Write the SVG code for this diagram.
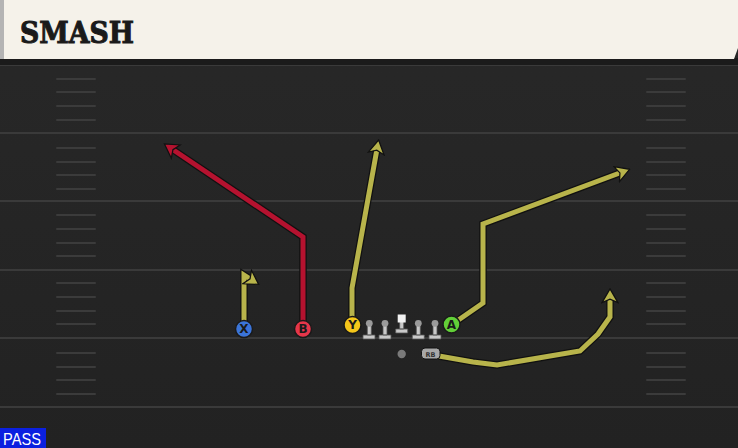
<svg xmlns="http://www.w3.org/2000/svg" width="738" height="448" viewBox="0 0 738 448">
<style>
.yard{stroke:#3a3a3a;stroke-width:2}
.hash{stroke:#3b3b3b;stroke-width:2;stroke-linecap:round}
.route{fill:none;stroke-width:5;stroke-linejoin:miter;stroke-linecap:butt}
.outline{fill:none;stroke:#111;stroke-width:7.5;stroke-linejoin:miter}
.yel{stroke:#b8b44b}
.red{stroke:#b5122f}
.lbl{font-family:"DejaVu Sans","Liberation Sans",sans-serif;font-weight:bold;font-size:12px;text-anchor:middle;fill:#1a1a1a}
.lineman{fill:#c9c9c9;stroke:#555;stroke-width:0.8}
</style>
<defs>
<marker id="ay" viewBox="0 0 14 16" refX="5" refY="8" markerWidth="16" markerHeight="18.3" orient="auto" markerUnits="userSpaceOnUse">
<path d="M1,1 L13,8 L1,15 L4,8 Z" fill="#b8b44b" stroke="#111" stroke-width="1.1" stroke-linejoin="miter"/>
</marker>
<marker id="ar" viewBox="0 0 14 16" refX="5" refY="8" markerWidth="16" markerHeight="18.3" orient="auto" markerUnits="userSpaceOnUse">
<path d="M1,1 L13,8 L1,15 L4,8 Z" fill="#b5122f" stroke="#111" stroke-width="1.1" stroke-linejoin="miter"/>
</marker>
<linearGradient id="fieldg" x1="0" y1="0" x2="0" y2="1">
<stop offset="0" stop-color="#282828"/>
<stop offset="1" stop-color="#222222"/>
</linearGradient>
</defs>
<rect x="0" y="0" width="738" height="448" fill="url(#fieldg)"/>
<g id="field">
<line class="yard" x1="0" y1="65" x2="738" y2="65"/>
<line class="yard" x1="0" y1="133" x2="738" y2="133"/>
<line class="yard" x1="0" y1="201" x2="738" y2="201"/>
<line class="yard" x1="0" y1="270" x2="738" y2="270"/>
<line class="yard" x1="0" y1="338" x2="738" y2="338"/>
<line class="yard" x1="0" y1="407" x2="738" y2="407"/>
<g id="hashes-left">
<line class="hash" x1="57" y1="79" x2="95" y2="79"/>
<line class="hash" x1="57" y1="92" x2="95" y2="92"/>
<line class="hash" x1="57" y1="106" x2="95" y2="106"/>
<line class="hash" x1="57" y1="120" x2="95" y2="120"/>
<line class="hash" x1="57" y1="148" x2="95" y2="148"/>
<line class="hash" x1="57" y1="162" x2="95" y2="162"/>
<line class="hash" x1="57" y1="175" x2="95" y2="175"/>
<line class="hash" x1="57" y1="189" x2="95" y2="189"/>
<line class="hash" x1="57" y1="215" x2="95" y2="215"/>
<line class="hash" x1="57" y1="229" x2="95" y2="229"/>
<line class="hash" x1="57" y1="243" x2="95" y2="243"/>
<line class="hash" x1="57" y1="256" x2="95" y2="256"/>
<line class="hash" x1="57" y1="283" x2="95" y2="283"/>
<line class="hash" x1="57" y1="297" x2="95" y2="297"/>
<line class="hash" x1="57" y1="311" x2="95" y2="311"/>
<line class="hash" x1="57" y1="324" x2="95" y2="324"/>
<line class="hash" x1="57" y1="353" x2="95" y2="353"/>
<line class="hash" x1="57" y1="367" x2="95" y2="367"/>
<line class="hash" x1="57" y1="380" x2="95" y2="380"/>
<line class="hash" x1="57" y1="394" x2="95" y2="394"/>
</g>
<g id="hashes-right">
<line class="hash" x1="647" y1="79" x2="685" y2="79"/>
<line class="hash" x1="647" y1="92" x2="685" y2="92"/>
<line class="hash" x1="647" y1="106" x2="685" y2="106"/>
<line class="hash" x1="647" y1="120" x2="685" y2="120"/>
<line class="hash" x1="647" y1="148" x2="685" y2="148"/>
<line class="hash" x1="647" y1="162" x2="685" y2="162"/>
<line class="hash" x1="647" y1="175" x2="685" y2="175"/>
<line class="hash" x1="647" y1="189" x2="685" y2="189"/>
<line class="hash" x1="647" y1="215" x2="685" y2="215"/>
<line class="hash" x1="647" y1="229" x2="685" y2="229"/>
<line class="hash" x1="647" y1="243" x2="685" y2="243"/>
<line class="hash" x1="647" y1="256" x2="685" y2="256"/>
<line class="hash" x1="647" y1="283" x2="685" y2="283"/>
<line class="hash" x1="647" y1="297" x2="685" y2="297"/>
<line class="hash" x1="647" y1="311" x2="685" y2="311"/>
<line class="hash" x1="647" y1="324" x2="685" y2="324"/>
<line class="hash" x1="647" y1="353" x2="685" y2="353"/>
<line class="hash" x1="647" y1="367" x2="685" y2="367"/>
<line class="hash" x1="647" y1="380" x2="685" y2="380"/>
<line class="hash" x1="647" y1="394" x2="685" y2="394"/>
</g>
</g>
<g id="header">
<rect x="0" y="58" width="738" height="7" fill="#1b1b1b"/>
<path d="M0,0 H738 V48 L734,59 H0 Z" fill="#f5f2ea"/>
<rect x="0" y="0" width="4" height="59" fill="#b4b4b4"/>
<text x="20" y="42.5" font-family="'DejaVu Serif','Liberation Serif',serif" font-weight="bold" font-size="29" textLength="114" lengthAdjust="spacingAndGlyphs" fill="#1a1a1a" stroke="#1a1a1a" stroke-width="1">SMASH</text>
</g>
<g id="connectors">
<path class="outline" d="M244,321 V275 L251,279.5"/>
<path class="route yel" d="M244,321 V275 L251,279.5" marker-end="url(#ay)"/>
<path class="outline" d="M303,321 V237 L172,149"/>
<path class="route red" d="M303,321 V237 L172,149" marker-end="url(#ar)"/>
<path class="outline" d="M352,317 V288 L377,149"/>
<path class="route yel" d="M352,317 V288 L377,149" marker-end="url(#ay)"/>
<path class="outline" d="M457,321 L483,303 V224 L621,172.5"/>
<path class="route yel" d="M457,321 L483,303 V224 L621,172.5" marker-end="url(#ay)"/>
<path class="outline" d="M439,356 L473,362 L497,365 L580,351 L598,334 L610,317 V298"/>
<path class="route yel" d="M439,356 L473,362 L497,365 L580,351 L598,334 L610,317 V298" marker-end="url(#ay)"/>
</g>
<g id="X"><circle cx="244" cy="329" r="8.5" fill="#3b74d8" stroke="#1a1a1a" stroke-width="1.5"/><text class="lbl" x="244" y="333.3">X</text></g>
<g id="B"><circle cx="303" cy="329" r="8.5" fill="#e6364a" stroke="#1a1a1a" stroke-width="1.5"/><text class="lbl" x="303" y="333.3">B</text></g>
<g id="Y"><circle cx="352.5" cy="325" r="8.5" fill="#f4c61a" stroke="#1a1a1a" stroke-width="1.5"/><text class="lbl" x="352.5" y="329.3">Y</text></g>
<g id="A"><circle cx="451.5" cy="324.5" r="8.5" fill="#62cf38" stroke="#1a1a1a" stroke-width="1.5"/><text class="lbl" x="451.5" y="328.8">A</text></g>
<g id="LT"><path class="lineman" d="M363,335 H375 V339 H363 Z M367.3,335 V324 H371.3 V335 Z"/><circle cx="369.3" cy="323.3" r="3.4" fill="#9a9a9a"/></g>
<g id="LG"><path class="lineman" d="M379,335 H391 V339 H379 Z M383,335 V324 H387 V335 Z"/><circle cx="385" cy="323.3" r="3.4" fill="#9a9a9a"/></g>
<g id="C"><path class="lineman" d="M395.7,329 H407.7 V333 H395.7 Z M399.7,329 V321 H403.7 V329 Z"/><rect x="397.7" y="314.5" width="8" height="8" fill="#f2f2f2"/></g>
<g id="RG"><path class="lineman" d="M412.3,335 H424.3 V339 H412.3 Z M416.3,335 V324 H420.3 V335 Z"/><circle cx="418.3" cy="323.3" r="3.4" fill="#9a9a9a"/></g>
<g id="RT"><path class="lineman" d="M429,335 H441 V339 H429 Z M433,335 V324 H437 V335 Z"/><circle cx="435" cy="323.3" r="3.4" fill="#9a9a9a"/></g>
<g id="QB"><circle cx="401.7" cy="354" r="4.2" fill="#7a7a7a"/></g>
<g id="RB"><rect x="421.5" y="348" width="18.5" height="11" rx="3.5" fill="#a8a8a8" stroke="#111" stroke-width="1"/><text x="430.5" y="356.5" font-family="'DejaVu Sans','Liberation Sans',sans-serif" font-size="6.5" font-weight="bold" text-anchor="middle" fill="#333">RB</text></g>
<g id="pass-tag"><rect x="0" y="428" width="46" height="20" fill="#0b20e0"/><text x="3" y="445" font-family="'Liberation Sans',Arial,sans-serif" font-size="17" fill="#ffffff" textLength="38" lengthAdjust="spacingAndGlyphs">PASS</text></g>
</svg>
